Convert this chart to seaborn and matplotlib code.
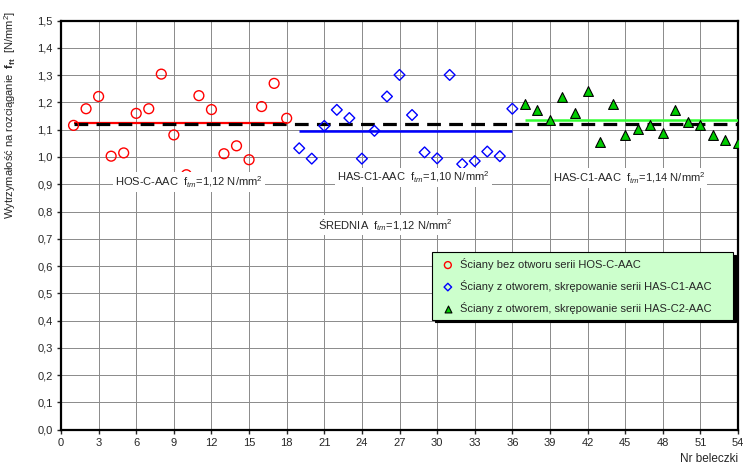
"""
Wytrzymałość na rozciąganie belek - trzy serie ścian
"""

import numpy as np
import pandas as pd
import matplotlib
matplotlib.use("Agg")
import matplotlib.pyplot as plt
import seaborn as sns
from matplotlib.ticker import MultipleLocator, FuncFormatter

# numery beleczek i odczytane wytrzymałości [N/mm2]
hos_nr = list(range(1, 19))
hos_ft = [1.116, 1.177, 1.222, 1.003, 1.015, 1.160, 1.177, 1.304, 1.081,
          0.935, 1.225, 1.174, 1.012, 1.041, 0.990, 1.185, 1.270, 1.142]

has1_nr = list(range(19, 37))
has1_ft = [1.032, 0.994, 1.114, 1.173, 1.143, 0.994, 1.096, 1.222, 1.301,
           1.154, 1.017, 0.995, 1.301, 0.974, 0.985, 1.020, 1.003, 1.177]

has2_nr = list(range(37, 55))
has2_ft = [1.195, 1.171, 1.137, 1.220, 1.163, 1.243, 1.054, 1.195, 1.080,
           1.101, 1.116, 1.088, 1.174, 1.127, 1.116, 1.081, 1.064, 1.053]

# średnie serii i średnia ogólna
series_means = [1.124, 1.096, 1.135]
overall_mean = 1.121

series_labels = [
    "Ściany bez otworu serii HOS-C-AAC",
    "Ściany z otworem, skrępowanie serii HAS-C1-AAC",
    "Ściany z otworem, skrępowanie serii HAS-C2-AAC",
]
mean_texts = [
    "HOS-C-AAC  f$_{tm}$=1,12 N/mm$^2$",
    "HAS-C1-AAC  f$_{tm}$=1,10 N/mm$^2$",
    "HAS-C1-AAC  f$_{tm}$=1,14 N/mm$^2$",
]
overall_text = "ŚREDNIA  f$_{tm}$=1,12 N/mm$^2$"

sns.set_style("white")
plt.rcParams['font.family'] = ['Liberation Sans', 'DejaVu Sans']
plt.rcParams['mathtext.fontset'] = 'custom'
plt.rcParams['mathtext.rm'] = 'Liberation Sans'
plt.rcParams['mathtext.it'] = 'Liberation Sans:italic'
plt.rcParams['mathtext.bf'] = 'Liberation Sans:bold'

fig = plt.figure(figsize=(7.43, 4.68), dpi=100)
ax = fig.add_axes([0.0821, 0.082, 0.9112, 0.8738])

df_hos = pd.DataFrame({"nr": hos_nr, "ft": hos_ft})
df_has1 = pd.DataFrame({"nr": has1_nr, "ft": has1_ft})
df_has2 = pd.DataFrame({"nr": has2_nr, "ft": has2_ft})

# linie średnich
ax.hlines(series_means[0], min(hos_nr), max(hos_nr), color="#ff0000", lw=1.6, zorder=3)
ax.hlines(series_means[1], min(has1_nr), max(has1_nr), color="#0000ff", lw=1.8, zorder=3)
ax.hlines(series_means[2], min(has2_nr), max(has2_nr), color="#33ff33", lw=1.8, zorder=3)
ax.hlines(overall_mean, min(hos_nr), max(has2_nr), color="black", lw=2.3,
          linestyles=(0, (4.3, 2.6)), zorder=4)

# punkty pomiarowe
sns.scatterplot(data=df_hos, x="nr", y="ft", ax=ax, marker="o", s=50,
                facecolor="none", edgecolor="#ff0000", linewidth=1.0,
                label=series_labels[0], zorder=5)
sns.scatterplot(data=df_has1, x="nr", y="ft", ax=ax, marker="D", s=30,
                facecolor="none", edgecolor="#0000ff", linewidth=1.0,
                label=series_labels[1], zorder=5)
sns.scatterplot(data=df_has2, x="nr", y="ft", ax=ax, marker="^", s=50,
                facecolor="#00cc00", edgecolor="black", linewidth=0.8,
                label=series_labels[2], zorder=5)

# opisy średnich
box = dict(facecolor="white", edgecolor="none", pad=1.5)
ax.text(10.2, 0.909, mean_texts[0], ha="center", va="center", fontsize=8, bbox=box, zorder=6)
ax.text(28.1, 0.925, mean_texts[1], ha="center", va="center", fontsize=8, bbox=box, zorder=6)
ax.text(45.3, 0.923, mean_texts[2], ha="center", va="center", fontsize=8, bbox=box, zorder=6)
ax.text(25.9, 0.750, overall_text, ha="center", va="center", fontsize=8, bbox=box, zorder=6)

ax.set_xlim(0, 54)
ax.set_ylim(0, 1.5)
ax.xaxis.set_major_locator(MultipleLocator(3))
ax.yaxis.set_major_locator(MultipleLocator(0.1))
ax.yaxis.set_major_formatter(FuncFormatter(lambda v, p: f"{v:.1f}".replace(".", ",")))
ax.grid(True, color="#8a8a8a", lw=0.7)
ax.set_axisbelow(True)
ax.tick_params(axis="both", direction="out", length=3, width=1, labelsize=8, pad=3,
               bottom=True, left=True)
for sp in ax.spines.values():
    sp.set_linewidth(1.6)
    sp.set_color("black")

ax.set_xlabel("Nr beleczki", fontsize=8.5, ha="right", va="top")
ax.xaxis.set_label_coords(1.0, -0.058)
ax.set_ylabel("Wytrzymałość na rozciąganie  $\\mathbf{f_{ft}}$  [N/mm$^2$]", fontsize=8)
ax.yaxis.set_label_coords(-0.064, 0.77)

leg = ax.legend(loc="center left", bbox_to_anchor=(0.5476, 0.2705, 0.445, 0.1615),
                mode="expand", borderaxespad=0, fontsize=8, frameon=True, fancybox=False,
                facecolor="#ccffcc", edgecolor="black", framealpha=1,
                shadow={"ox": 2, "oy": -2, "color": "black", "alpha": 1},
                handletextpad=0.15, handlelength=1.9, borderpad=0.5, labelspacing=0.9,
                markerscale=0.7)
leg.get_frame().set_linewidth(0.8)
leg.set_zorder(7)

fig.savefig("out.png", dpi=100)
